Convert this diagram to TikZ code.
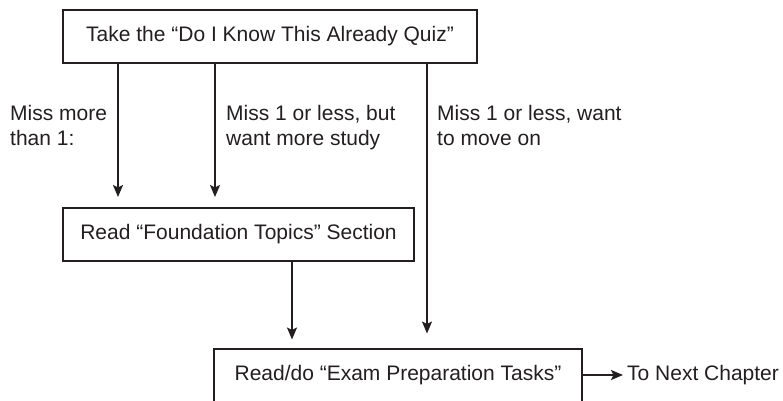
\documentclass[tikz,border=0pt]{standalone}
\usepackage{fontspec}
\setmainfont{Liberation Sans}
\usetikzlibrary{arrows.meta,positioning}
\definecolor{ink}{HTML}{231F20}

\begin{document}
\begin{tikzpicture}[x=1pt,y=-1pt,color=ink]
      \tikzstyle{task}=[rectangle,draw=ink,line width=2pt,minimum height=53pt,inner sep=0pt,font=\fontsize{21}{25}\selectfont]
      \tikzstyle{note}=[align=left,anchor=base west,inner sep=0pt,font=\fontsize{21}{25}\selectfont]
      \tikzstyle{flow}=[line width=1.9pt,-{Stealth[length=12pt,width=10pt,inset=2.5pt]}]

      \useasboundingbox (0,0) rectangle (783,400);

      \node[task,minimum width=414pt](quiz) at (270,36.5){Take the “Do I Know This Already Quiz”};
      \node[task,minimum width=351pt](topics) at (238.5,234.5){Read “Foundation Topics” Section};
      \node[task,minimum width=368pt](prep) at (398,375){Read/do “Exam Preparation Tasks”};
      \node[note,anchor=west,inner sep=4pt](next)[right=40pt of prep]{To Next Chapter};

      % answers to the quiz
      \node[note](miss)   at (10,145){Miss more\\than 1:};
      \node[note](study)  at (226,145){Miss 1 or less, but\\want more study};
      \node[note](moveon) at (437,145){Miss 1 or less, want\\to move on};

      \coordinate (c1) at (118,0);
      \coordinate (c2) at (215,0);
      \coordinate (c3) at (292,0);
      \coordinate (c4) at (427,0);

      \path[flow]
        (quiz.south -| c1) edge[shorten >=10pt] (topics.north -| c1)
        (quiz.south -| c2) edge[shorten >=10pt] (topics.north -| c2)
        (topics.south -| c3) edge[shorten >=8pt] (prep.north -| c3)
        (quiz.south -| c4) edge[shorten >=14pt] (prep.north -| c4)
        (prep) edge (next);
\end{tikzpicture}
\end{document}
